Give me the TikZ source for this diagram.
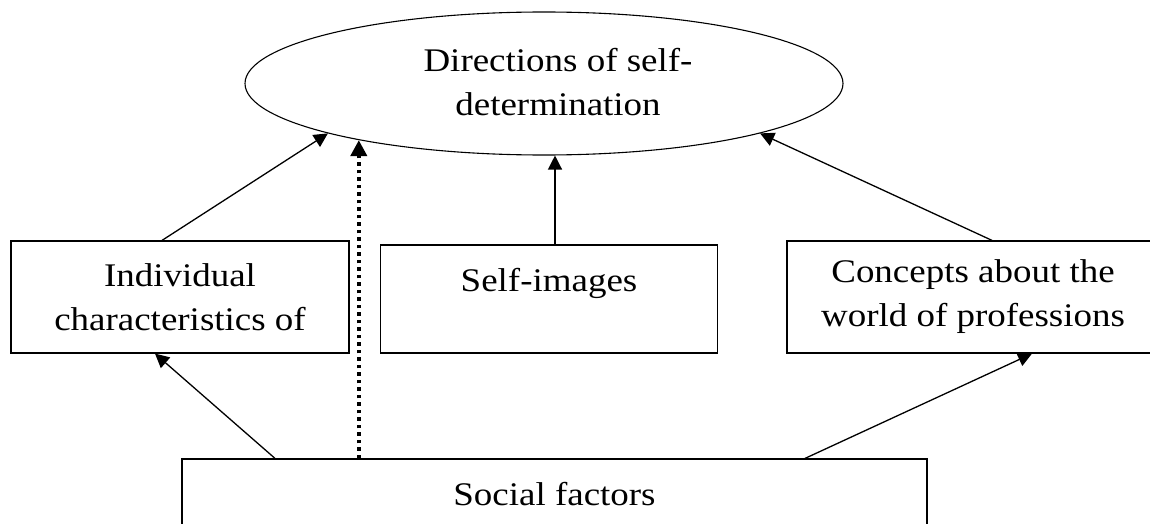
\documentclass[tikz,border=0pt]{standalone}
\usepackage{fontspec}
\setmainfont{Liberation Serif}[FakeStretch=1.12]
\usetikzlibrary{shapes.geometric,arrows.meta}

\begin{document}
\begin{tikzpicture}[x=1pt,y=-1pt,
	font=\fontsize{33}{44}\selectfont,
	box/.style={draw, line width=1.2pt, inner sep=0pt, align=center},
	onebox/.style={box, text height=22.5pt, text depth=38pt},
	arr/.style={line width=1.3pt, -{Triangle[length=14pt,width=14pt]}},
	dotarr/.style={line width=4pt, dash pattern=on 3.5pt off 4pt, -{Triangle[length=16pt,width=16pt]}}]
	\useasboundingbox (0,0) rectangle (1150,524);
	\clip (0,0) rectangle (1150,524);
	\node[ellipse, draw, line width=1.1pt, inner sep=0pt, minimum width=598pt, minimum height=143pt] (goal) at (544,83.5) {};
	\node[align=center] (goaltext) at (558,82) {Directions of self-\\determination};
	\node[box, minimum width=338pt, minimum height=112pt] (indiv) at (180,297) {Individual\\characteristics of};
	\node[onebox, minimum width=337pt, minimum height=108pt] (self) at (549,299) {Self-images};
	\node[box, minimum width=372pt, minimum height=112pt] (concepts) at (973,297) {Concepts about the\\world of professions};
	\node[onebox, minimum width=745pt, minimum height=108pt] (social) at (554.5,513) {Social factors};
	\draw[arr] ([xshift=-18pt]indiv.north) -- (goal.193);
	\draw[dotarr] (social.north -| goal.197.7) -- (goal.197.7);
	\draw[arr] ([xshift=6pt]self.north) -- ([xshift=6pt]self.north |- goal.south);
	\draw[arr] ([xshift=19pt]concepts.north) -- (goal.347.8);
	\draw[arr] ([xshift=-279.5pt]social.north) -- ([xshift=-25pt]indiv.south);
	\draw[arr] ([xshift=250.5pt]social.north) -- ([xshift=59pt]concepts.south);
\end{tikzpicture}
\end{document}
